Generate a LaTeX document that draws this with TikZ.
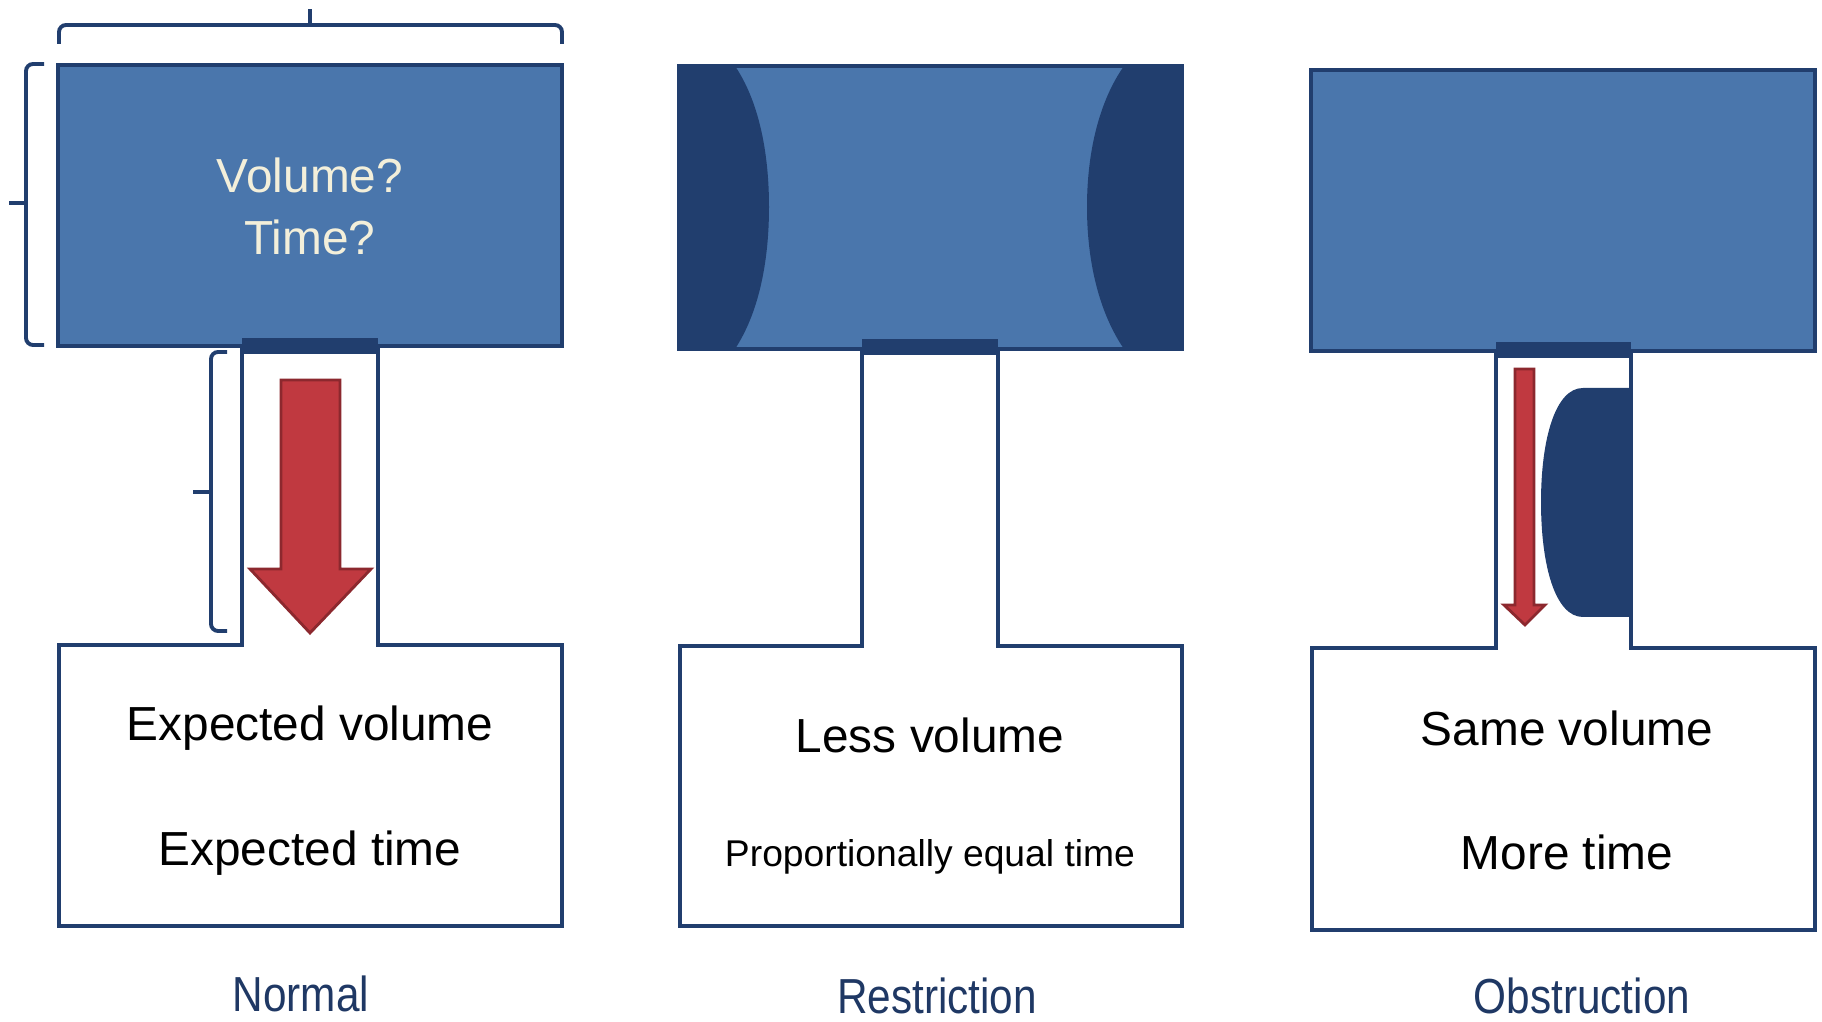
\documentclass[tikz,border=0pt]{standalone}
\usepackage{fontspec}
\setmainfont{Liberation Sans}
\newfontfamily\labelfont[FakeStretch=0.86]{Liberation Sans}
\usetikzlibrary{positioning}

\definecolor{tankblue}{RGB}{74,118,172}
\definecolor{edgeblue}{RGB}{33,62,110}
\definecolor{flowred}{RGB}{192,57,64}
\definecolor{flowedge}{RGB}{140,40,46}
\definecolor{cream}{RGB}{243,239,218}
\definecolor{captionblue}{RGB}{31,56,100}

\begin{document}
\begin{tikzpicture}[
		x=0.1mm, y=-0.1mm,
		tank/.style={fill=tankblue, draw=edgeblue, line width=1.4pt},
		wall/.style={draw=edgeblue, line width=1.4pt},
		bar/.style={fill=edgeblue},
		brace/.style={draw=edgeblue, line width=1.1pt, rounded corners=2pt},
		flow/.style={fill=flowred, draw=flowedge, line width=0.8pt},
		txt/.style={anchor=base, font=\fontsize{13.6}{18}\selectfont},
		caption/.style={anchor=base, inner sep=0pt, text=captionblue, font=\labelfont\fontsize{14}{16}\selectfont}
	]
	\useasboundingbox (0,0) rectangle (1822,1022);

		% Normal
		\draw[tank] (58,65) rectangle (562,346);
		\draw[wall] (242,346) -- (242,645) -- (59,645) -- (59,926) -- (562,926) -- (562,645) -- (378,645) -- (378,346);
		\fill[bar] (242,338) rectangle (378,354);
		\draw[flow] (281,380) -- (340,380) -- (340,569) -- (371,569) -- (310,633) -- (250,569) -- (281,569) -- cycle;
		\node[txt, text=cream] (vol) at (310,193) {Volume?};
		\node[txt, text=cream] (time) at (310,255) {Time?};
		\node[txt] (expvol) at (310,741) {Expected volume};
		\node[txt] (exptime) at (310,866) {Expected time};
		\node[caption] (normal) at (301,1012) {Normal};

		% Braces
		\draw[brace] (59,44) -- (59,25) -- (562,25) -- (562,44);
		\draw[edgeblue, line width=1.1pt] (310,25) -- (310,9);
		\draw[brace] (44,64) -- (26,64) -- (26,345) -- (44,345);
		\draw[edgeblue, line width=1.1pt] (26,203) -- (9,203);
		\draw[brace] (227,352) -- (211,352) -- (211,631) -- (227,631);
		\draw[edgeblue, line width=1.1pt] (211,492) -- (193,492);

		% Restriction
		\fill[tankblue] (679,66) rectangle (1182,349);
		\fill[edgeblue] (679,66) -- (735,66) .. controls (758,100) and (769,150) .. (769,207) .. controls (769,264) and (758,314) .. (735,349) -- (679,349) -- cycle;
		\fill[edgeblue] (1182,66) -- (1124,66) .. controls (1100,100) and (1087,150) .. (1087,207) .. controls (1087,264) and (1100,314) .. (1124,349) -- (1182,349) -- cycle;
		\draw[wall] (679,66) rectangle (1182,349);
		\draw[wall] (862,349) -- (862,646) -- (680,646) -- (680,926) -- (1182,926) -- (1182,646) -- (998,646) -- (998,349);
		\fill[bar] (862,339) rectangle (998,355);
		\node[txt] (lessvol) at (930,753) {Less volume};
		\node[txt, font=\fontsize{10.6}{13}\selectfont] (eqtime) at (930,867) {Proportionally equal time};
		\node[caption] (restriction) at (937,1014) {Restriction};

		% Obstruction
		\draw[tank] (1311,70) rectangle (1815,351);
		\draw[wall] (1496,351) -- (1496,648) -- (1312,648) -- (1312,930) -- (1815,930) -- (1815,648) -- (1631,648) -- (1631,351);
		\fill[bar] (1496,342) rectangle (1631,358);
		\fill[edgeblue] (1631,388) -- (1583,388) .. controls (1555,388) and (1541,440) .. (1541,502) .. controls (1541,565) and (1555,617) .. (1583,617) -- (1631,617) -- cycle;
		\draw[flow] (1515,369) -- (1534,369) -- (1534,605) -- (1545,605) -- (1525,625) -- (1504,605) -- (1515,605) -- cycle;
		\node[txt] (samevol) at (1567,746) {Same volume};
		\node[txt] (moretime) at (1567,870) {More time};
		\node[caption] (obstruction) at (1582,1014) {Obstruction};

	\end{tikzpicture}
\end{document}
